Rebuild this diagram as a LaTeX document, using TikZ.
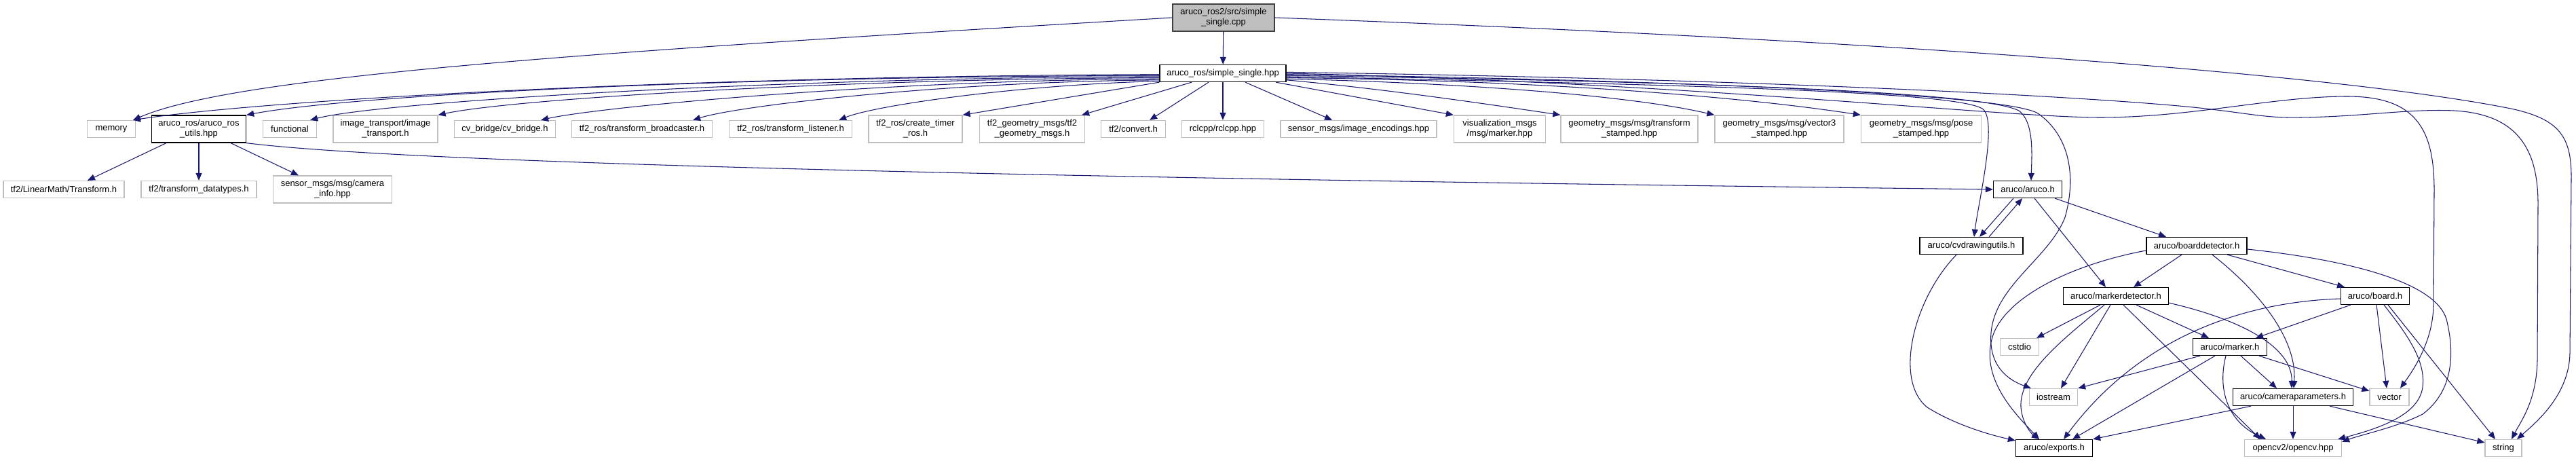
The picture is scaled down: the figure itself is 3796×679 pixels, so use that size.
\documentclass[tikz,border=0pt]{standalone}
\usepackage{fontspec}
\setmainfont{Liberation Sans}
\usetikzlibrary{arrows.meta}
\definecolor{edgecol}{HTML}{191970}
\definecolor{extcol}{HTML}{BFBFBF}
\definecolor{rootfill}{HTML}{BFBFBF}
\definecolor{rootdraw}{HTML}{404040}
\begin{document}
\begin{tikzpicture}[x=1pt,y=-1pt,
  nodebox/.style={rectangle, inner sep=0pt, align=center, font=\fontsize{13}{15}\selectfont, line width=1.3pt, minimum height=25},
  ext/.style={nodebox, draw=extcol, fill=white},
  doc/.style={nodebox, draw=black, fill=white},
  rootbox/.style={nodebox, draw=rootdraw, fill=rootfill},
  two/.style={minimum height=40},
  dep/.style={draw=edgecol, line width=1.05pt, -{Triangle[length=11pt,width=9pt]}}
]
\fill[white] (0,0) rectangle (3796,679);
\useasboundingbox (0,0) rectangle (3796,679);

% nodes
\node[rootbox,two,minimum width=150] (root) at (1803,26) {aruco\_ros2/src/simple\\\_single.cpp};
\node[doc,minimum width=186] (hpp) at (1802,108) {aruco\_ros/simple\_single.hpp};
\node[ext,minimum width=71] (memory) at (164,190) {memory};
\node[doc,two,minimum width=139] (utils) at (293,190) {aruco\_ros/aruco\_ros\\\_utils.hpp};
\node[ext,minimum width=79] (functional) at (427,190) {functional};
\node[ext,two,minimum width=154] (imgtr) at (568,190) {image\_transport/image\\\_transport.h};
\node[ext,minimum width=149] (cvbridge) at (744,190) {cv\_bridge/cv\_bridge.h};
\node[ext,minimum width=207] (tfbroad) at (946,190) {tf2\_ros/transform\_broadcaster.h};
\node[ext,minimum width=181] (tflisten) at (1165,190) {tf2\_ros/transform\_listener.h};
\node[ext,two,minimum width=138] (timer) at (1349,190) {tf2\_ros/create\_timer\\\_ros.h};
\node[ext,two,minimum width=155] (tfgeo) at (1521,190) {tf2\_geometry\_msgs/tf2\\\_geometry\_msgs.h};
\node[ext,minimum width=95] (convert) at (1670,190) {tf2/convert.h};
\node[ext,minimum width=121] (rclcpp) at (1802,190) {rclcpp/rclcpp.hpp};
\node[ext,minimum width=230] (imgenc) at (2002,190) {sensor\_msgs/image\_encodings.hpp};
\node[ext,two,minimum width=135] (vismarker) at (2210,190) {visualization\_msgs\\/msg/marker.hpp};
\node[ext,two,minimum width=202] (tfstamped) at (2401,190) {geometry\_msgs/msg/transform\\\_stamped.hpp};
\node[ext,two,minimum width=190] (vecstamped) at (2622,190) {geometry\_msgs/msg/vector3\\\_stamped.hpp};
\node[ext,two,minimum width=177] (posestamped) at (2831,190) {geometry\_msgs/msg/pose\\\_stamped.hpp};
\node[ext,minimum width=178] (lmtransform) at (94,279) {tf2/LinearMath/Transform.h};
\node[ext,minimum width=170] (tfdt) at (293,279) {tf2/transform\_datatypes.h};
\node[ext,two,minimum width=175] (caminfo) at (490,279) {sensor\_msgs/msg/camera\\\_info.hpp};
\node[doc,minimum width=101] (aruco) at (2988,279) {aruco/aruco.h};
\node[doc,minimum width=152] (cvdraw) at (2905,362) {aruco/cvdrawingutils.h};
\node[doc,minimum width=148] (boarddet) at (3237,362) {aruco/boarddetector.h};
\node[doc,minimum width=155] (markerdet) at (3118,436) {aruco/markerdetector.h};
\node[doc,minimum width=101] (board) at (3500,436) {aruco/board.h};
\node[ext,minimum width=57] (cstdio) at (2976,511) {cstdio};
\node[doc,minimum width=109] (marker) at (3286,511) {aruco/marker.h};
\node[ext,minimum width=71] (iostream) at (3026,585) {iostream};
\node[doc,minimum width=177] (camparams) at (3379,585) {aruco/cameraparameters.h};
\node[ext,minimum width=58] (vector) at (3521,585) {vector};
\node[doc,minimum width=113] (exports) at (3027,660) {aruco/exports.h};
\node[ext,minimum width=143] (opencv) at (3379,660) {opencv2/opencv.hpp};
\node[ext,minimum width=54] (string) at (3689,660) {string};

% root edges
\draw[dep] (root) -- (hpp);
\draw[dep] (root.west) .. controls (900,75) and (350,110) .. ([xshift=-4pt]memory.north east);
\draw[dep] (root.east) .. controls (2800,60) and (3450,110) .. (3700,160) .. controls (3770,175) and (3789,200) .. (3789,260) -- (3787,520) .. controls (3786,580) and (3740,620) .. ([xshift=20pt]string.north);

% hpp to the left
\draw[dep] (hpp.181) .. controls (950,113) and (370,150) .. ([xshift=-4pt]memory.north east);
\draw[dep] (hpp.182) .. controls (1050,113) and (520,140) .. (utils.north east);
\draw[dep] (hpp.183) .. controls (1150,114) and (560,150) .. ([xshift=-10pt]functional.north east);
\draw[dep] (hpp.184) .. controls (1250,116) and (760,145) .. (imgtr.north east);
\draw[dep] (hpp.185) .. controls (1300,118) and (880,158) .. ([xshift=-22pt]cvbridge.north east);
\draw[dep] (hpp.186) .. controls (1400,120) and (1090,155) .. ([xshift=-29pt]tfbroad.north east);
\draw[dep] (hpp.187) .. controls (1500,125) and (1290,155) .. ([xshift=-20pt]tflisten.north east);
\draw[dep] (hpp.south west) -- (timer.north east);
\draw[dep] ([xshift=-46pt]hpp.south) -- ([xshift=-5pt]tfgeo.north east);
\draw[dep] ([xshift=-21pt]hpp.south) -- ([xshift=-24pt]convert.north east);
\draw[dep] (hpp.south) -- (rclcpp.north);
\draw[dep] ([xshift=33pt]hpp.south) -- ([xshift=-39pt]imgenc.north);
\draw[dep] ([xshift=78pt]hpp.south) -- (vismarker.north west);

% hpp to the right
\draw[dep] (hpp.-6) .. controls (2030,130) and (2170,150) .. (tfstamped.north west);
\draw[dep] (hpp.-5) .. controls (2150,122) and (2400,140) .. (vecstamped.north west);
\draw[dep] (hpp.-4) .. controls (2250,118) and (2550,140) .. (posestamped.north west);
\draw[dep] (hpp.-3) .. controls (2500,125) and (2880,135) .. (2921,160) .. controls (2945,175) and (2915,300) .. ([xshift=4pt]cvdraw.north);
\draw[dep] (hpp.-2) .. controls (2500,120) and (2920,135) .. (2975,163) .. controls (2998,180) and (2994,230) .. ([xshift=5pt]aruco.north);
\draw[dep] (hpp.-1) .. controls (2500,118) and (2960,140) .. (3003,167) .. controls (3050,200) and (3060,260) .. (3043,320) .. controls (3020,380) and (2940,420) .. (2934,490) .. controls (2930,540) and (2960,560) .. ([xshift=3pt]iostream.north west);
\draw[dep] (hpp.0) .. controls (2500,122) and (2950,173) .. (3095,173) .. controls (3230,173) and (3350,142) .. (3459,142) .. controls (3560,142) and (3587,190) .. (3587,280) -- (3586,450) .. controls (3585,500) and (3560,540) .. ([xshift=16pt]vector.north);
\draw[dep] (hpp.1) .. controls (2700,118) and (3150,148) .. (3250,160) .. controls (3320,168) and (3340,174) .. (3390,173) .. controls (3480,172) and (3550,160) .. (3616,163) .. controls (3710,168) and (3740,220) .. (3740,300) -- (3739,530) .. controls (3738,590) and (3715,620) .. ([xshift=12pt]string.north);

% utils
\draw[dep] ([xshift=-48pt]utils.south) -- ([xshift=35pt]lmtransform.north);
\draw[dep] (utils.south) -- (tfdt.north);
\draw[dep] ([xshift=47pt]utils.south) -- ([xshift=-50pt]caminfo.north);
\draw[dep] (utils.south east) .. controls (600,240) and (1500,262) .. (aruco.west);

% aruco
\draw[dep] ([xshift=-21pt]aruco.south) -- ([xshift=12pt]cvdraw.north);
\draw[dep] ([xshift=26pt]cvdraw.north) -- ([xshift=-8pt]aruco.south);
\draw[dep] ([xshift=10pt]aruco.south) -- ([xshift=-15pt]markerdet.north);
\draw[dep] ([xshift=-11pt]aruco.south east) -- ([xshift=-45pt]boarddet.north);

% cvdrawingutils
\draw[dep] ([xshift=-22pt]cvdraw.south) .. controls (2820,440) and (2790,560) .. (2840,600) .. controls (2880,625) and (2930,640) .. ([yshift=-2pt]exports.north west);

% boarddetector
\draw[dep] ([xshift=-22pt]boarddet.south) -- ([xshift=26pt]markerdet.north);
\draw[dep] ([yshift=-7pt]boarddet.west) .. controls (3050,390) and (2950,440) .. (2935,500) .. controls (2920,560) and (2970,610) .. ([xshift=-22pt]exports.north);
\draw[dep] ([xshift=23pt]boarddet.south) .. controls (3330,430) and (3385,500) .. ([xshift=1pt]camparams.north);
\draw[dep] ([xshift=45pt]boarddet.south) -- ([xshift=-45pt]board.north);
\draw[dep] ([yshift=-5pt]boarddet.east) .. controls (3480,385) and (3590,420) .. (3605,470) .. controls (3620,530) and (3610,580) .. (3570,610) .. controls (3530,630) and (3480,640) .. ([yshift=-4pt]opencv.north east);

% markerdetector
\draw[dep] ([xshift=-23pt]markerdet.south) -- ([xshift=25pt]cstdio.north);
\draw[dep] ([xshift=-8pt]markerdet.south) -- ([xshift=11pt]iostream.north);
\draw[dep] ([xshift=-17pt]markerdet.south) .. controls (3040,500) and (2975,550) .. (2978,600) .. controls (2980,625) and (2995,640) .. ([xshift=-22pt]exports.north);
\draw[dep] ([xshift=30pt]markerdet.south) -- ([xshift=-31pt]marker.north);
\draw[dep] ([yshift=3pt]markerdet.south east) .. controls (3300,470) and (3378,510) .. ([xshift=-2pt]camparams.north);
\draw[dep] ([xshift=11pt]markerdet.south) -- ([xshift=-48pt]opencv.north);

% marker
\draw[dep] ([xshift=-44pt]marker.south) -- (iostream.north east);
\draw[dep] ([xshift=-22pt]marker.south) -- ([xshift=27pt]exports.north);
\draw[dep] ([xshift=-6pt]marker.south) .. controls (3268,570) and (3280,620) .. ([xshift=-40pt]opencv.north);
\draw[dep] ([xshift=16pt]marker.south) -- ([xshift=-24pt]camparams.north);
\draw[dep] ([xshift=43pt]marker.south) -- ([yshift=-4pt]vector.north west);

% board
\draw[dep] ([xshift=-36pt]board.south) -- ([xshift=38pt]marker.north);
\draw[dep] ([xshift=2pt]board.south) -- ([xshift=-4pt]vector.north);
\draw[dep] ([xshift=13pt]board.south) .. controls (3545,490) and (3575,530) .. (3570,570) .. controls (3565,610) and (3510,630) .. ([xshift=-6pt]opencv.north east);
\draw[dep] ([xshift=19pt]board.south) -- ([xshift=-12pt]string.north);
\draw[dep] ([yshift=-4pt]board.west) .. controls (3300,445) and (3150,500) .. ([xshift=14pt]exports.north);

% cameraparameters
\draw[dep] ([xshift=-62pt]camparams.south) -- (exports.north east);
\draw[dep] (camparams) -- (opencv);
\draw[dep] ([xshift=54pt]camparams.south) -- ([yshift=-5pt]string.north west);
\end{tikzpicture}
\end{document}
